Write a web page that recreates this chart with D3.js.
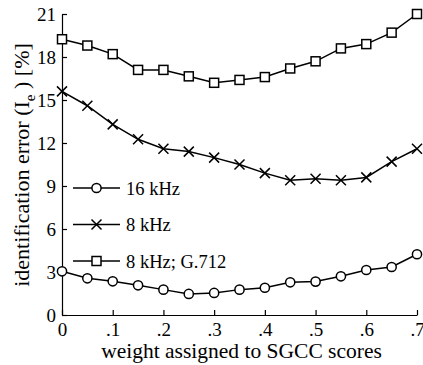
<!DOCTYPE html>
<html>
<head>
<meta charset="utf-8">
<script src="https://cdn.jsdelivr.net/npm/d3@7"></script>
<style>
  body { margin: 0; background: #fff; }
  svg text { font-family: "Liberation Serif", "Times New Roman", Times, "DejaVu Serif", serif; }
</style>
</head>
<body>
<svg id="chart" width="423" height="365"></svg>
<script>
// weight steps
var weights = [0, .05, .1, .15, .2, .25, .3, .35, .4, .45, .5, .55, .6, .65, .7];

var err16k = [3.05, 2.56, 2.35, 2.07, 1.77, 1.47, 1.54, 1.77, 1.9, 2.28, 2.33, 2.7, 3.14, 3.35, 4.24];
var err8k = [15.6, 14.6, 13.3, 12.26, 11.6, 11.4, 10.98, 10.5, 9.9, 9.4, 9.5, 9.4, 9.6, 10.7, 11.6];
var err8kG712 = [19.24, 18.8, 18.2, 17.1, 17.1, 16.65, 16.2, 16.4, 16.6, 17.2, 17.7, 18.6, 18.9, 19.7, 21.0];

var seriesNames = ["16 kHz", "8 kHz", "8 kHz; G.712"];
var xTicks = [0, .1, .2, .3, .4, .5, .6, .7];
var yTicks = [0, 3, 6, 9, 12, 15, 18, 21];

var serif = "Liberation Serif";

var svg = d3.select("#chart");

var x = d3.scaleLinear().domain([0, 0.7]).range([62, 417]);
var y = d3.scaleLinear().domain([0, 21]).range([315, 14]);

var fmtX = function (d) {
  return d === 0 ? "0" : d3.format(".1f")(d).replace(/^0/, "");
};

// axes, ticks pointing inward
svg.append("g")
  .attr("transform", "translate(0," + y(0) + ")")
  .call(d3.axisBottom(x).tickValues(xTicks).tickFormat(fmtX).tickSizeInner(-5).tickSizeOuter(0).tickPadding(8));

svg.append("g")
  .attr("transform", "translate(" + x(0) + ",0)")
  .call(d3.axisLeft(y).tickValues(yTicks).tickSizeInner(-5).tickSizeOuter(0).tickPadding(6));

svg.selectAll("g").attr("font-family", serif);
svg.selectAll(".domain, .tick line").attr("stroke", "#000").attr("stroke-width", 1.2);
svg.selectAll(".tick text").attr("font-size", 19).attr("fill", "#000");

// axis titles
svg.append("text")
  .attr("x", (x(0) + x(0.7)) / 2 + 2)
  .attr("y", 358)
  .attr("text-anchor", "middle")
  .attr("font-family", serif)
  .attr("font-size", 21.5)
  .text("weight assigned to SGCC scores");

var ylab = svg.append("text")
  .attr("transform", "translate(29," + 165 + ") rotate(-90)")
  .attr("text-anchor", "middle")
  .attr("font-family", serif)
  .attr("font-size", 22)
  .attr("xml:space", "preserve");
ylab.append("tspan").text("identification error (I");
ylab.append("tspan").attr("font-size", 15).attr("dy", 6).text("e");
ylab.append("tspan").attr("dy", -6).text(" ) [%]");

var line = d3.line()
  .x(function (d, i) { return x(weights[i]); })
  .y(function (d) { return y(d); });

function drawMarker(g, type, cx, cy) {
  if (type === "circle") {
    g.append("circle").attr("cx", cx).attr("cy", cy).attr("r", 4.6)
      .attr("fill", "#fff").attr("stroke", "#000").attr("stroke-width", 1.5);
  } else if (type === "cross") {
    var s = 5;
    g.append("path")
      .attr("d", "M" + (cx - s) + "," + (cy - s) + "L" + (cx + s) + "," + (cy + s) +
        "M" + (cx - s) + "," + (cy + s) + "L" + (cx + s) + "," + (cy - s))
      .attr("stroke", "#000").attr("stroke-width", 1.5);
  } else {
    g.append("rect").attr("x", cx - 4.5).attr("y", cy - 4.5).attr("width", 9).attr("height", 9)
      .attr("fill", "#fff").attr("stroke", "#000").attr("stroke-width", 1.5);
  }
}

var series = [
  { name: seriesNames[0], values: err16k, marker: "circle" },
  { name: seriesNames[1], values: err8k, marker: "cross" },
  { name: seriesNames[2], values: err8kG712, marker: "square" }
];

series.forEach(function (s) {
  var g = svg.append("g");
  g.append("path")
    .attr("d", line(s.values))
    .attr("fill", "none")
    .attr("stroke", "#000")
    .attr("stroke-width", 1.5);
  s.values.forEach(function (v, i) {
    drawMarker(g, s.marker, x(weights[i]), y(v));
  });
});

// legend
var legend = svg.selectAll(".legend")
  .data(series)
  .enter()
  .append("g")
  .attr("class", "legend")
  .attr("transform", function (d, i) {
    return "translate(73," + (188 + i * 36.5) + ")";
  });

legend.append("line")
  .attr("x1", 0).attr("x2", 47).attr("y1", 0).attr("y2", 0)
  .attr("stroke", "#000").attr("stroke-width", 1.5);

legend.each(function (d) {
  drawMarker(d3.select(this), d.marker, 23.5, 0);
});

legend.append("text")
  .attr("x", 53)
  .attr("y", 6.5)
  .attr("font-family", serif)
  .attr("font-size", 18.5)
  .text(function (d) { return d.name; });
</script>
</body>
</html>
